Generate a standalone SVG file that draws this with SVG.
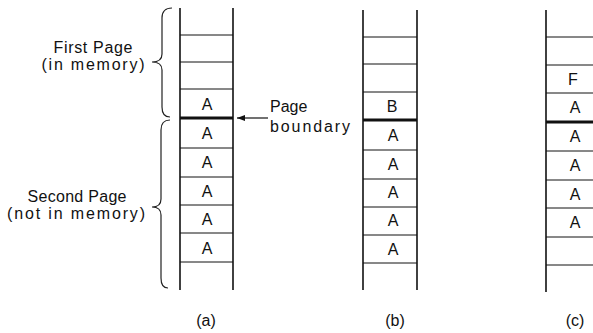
<svg xmlns="http://www.w3.org/2000/svg" width="593" height="333" viewBox="0 0 593 333">
<style>
  text { font-family: "Liberation Sans", Arial, sans-serif; font-size: 16px; fill: #111; }
  .c { text-anchor: middle; }
  .v { stroke: #111; stroke-width: 1.6; fill: none; }
  .h { stroke: #111; stroke-width: 1; fill: none; }
  .b { stroke: #111; stroke-width: 3; fill: none; }
  .br { stroke: #222; stroke-width: 1.2; fill: none; }
</style>
<defs>
  <marker id="ah" markerWidth="8" markerHeight="6" refX="8" refY="3" orient="auto" markerUnits="userSpaceOnUse">
    <path d="M0,0 L8,3 L0,6 Z" fill="#111"/>
  </marker>
</defs>
<rect width="593" height="333" fill="#fff"/>

<g id="brace-first">
  <path class="br" d="M172,8 Q162,8 162,18 L162,54 Q162,62 152,62 Q162,62 162,70 L162,107 Q162,117 170,117"/>
  <text class="c" x="93" y="53" textLength="79" lengthAdjust="spacing">First Page</text>
  <text class="c" x="93" y="70" textLength="103" lengthAdjust="spacing">(in memory)</text>
</g>

<g id="brace-second">
  <path class="br" d="M170,120 Q161,120 161,130 L161,199 Q161,207 152,207 Q161,207 161,215 L161,278 Q161,288 168,288"/>
  <text class="c" x="77" y="202" textLength="99" lengthAdjust="spacing">Second Page</text>
  <text class="c" x="76" y="219" textLength="138" lengthAdjust="spacing">(not in memory)</text>
</g>

<g id="column-a">
  <line class="v" x1="180" y1="8" x2="180" y2="290"/>
  <line class="v" x1="233" y1="8" x2="233" y2="290"/>
  <line class="h" x1="180" y1="35" x2="233" y2="35"/>
  <line class="h" x1="180" y1="62" x2="233" y2="62"/>
  <line class="h" x1="180" y1="89" x2="233" y2="89"/>
  <line class="b" x1="180" y1="118" x2="233" y2="118"/>
  <line class="h" x1="180" y1="148" x2="233" y2="148"/>
  <line class="h" x1="180" y1="177" x2="233" y2="177"/>
  <line class="h" x1="180" y1="205" x2="233" y2="205"/>
  <line class="h" x1="180" y1="233" x2="233" y2="233"/>
  <line class="h" x1="180" y1="262" x2="233" y2="262"/>
  <text class="c" x="207" y="110">A</text>
  <text class="c" x="207" y="139">A</text>
  <text class="c" x="207" y="168">A</text>
  <text class="c" x="207" y="197">A</text>
  <text class="c" x="207" y="225">A</text>
  <text class="c" x="207" y="254">A</text>
  <text class="c" x="206" y="326">(a)</text>
</g>

<g id="column-b">
  <line class="v" x1="363" y1="10" x2="363" y2="290"/>
  <line class="v" x1="417" y1="10" x2="417" y2="290"/>
  <line class="h" x1="363" y1="37" x2="417" y2="37"/>
  <line class="h" x1="363" y1="64" x2="417" y2="64"/>
  <line class="h" x1="363" y1="92" x2="417" y2="92"/>
  <line class="b" x1="363" y1="120" x2="417" y2="120"/>
  <line class="h" x1="363" y1="150" x2="417" y2="150"/>
  <line class="h" x1="363" y1="179" x2="417" y2="179"/>
  <line class="h" x1="363" y1="207" x2="417" y2="207"/>
  <line class="h" x1="363" y1="235" x2="417" y2="235"/>
  <line class="h" x1="363" y1="263" x2="417" y2="263"/>
  <text class="c" x="392" y="112">B</text>
  <text class="c" x="393" y="141">A</text>
  <text class="c" x="393" y="170">A</text>
  <text class="c" x="393" y="198">A</text>
  <text class="c" x="393" y="226">A</text>
  <text class="c" x="393" y="255">A</text>
  <text class="c" x="395" y="326">(b)</text>
</g>

<g id="column-c">
  <line class="v" x1="546" y1="10" x2="546" y2="292"/>
  <line class="h" x1="546" y1="37" x2="593" y2="37"/>
  <line class="h" x1="546" y1="65" x2="593" y2="65"/>
  <line class="h" x1="546" y1="93" x2="593" y2="93"/>
  <line class="b" x1="546" y1="122" x2="593" y2="122"/>
  <line class="h" x1="546" y1="151" x2="593" y2="151"/>
  <line class="h" x1="546" y1="180" x2="593" y2="180"/>
  <line class="h" x1="546" y1="208" x2="593" y2="208"/>
  <line class="h" x1="546" y1="237" x2="593" y2="237"/>
  <line class="h" x1="546" y1="265" x2="593" y2="265"/>
  <text class="c" x="573" y="85">F</text>
  <text class="c" x="575" y="113">A</text>
  <text class="c" x="575" y="142">A</text>
  <text class="c" x="575" y="171">A</text>
  <text class="c" x="575" y="200">A</text>
  <text class="c" x="575" y="228">A</text>
  <text class="c" x="575" y="326">(c)</text>
</g>

<g id="page-boundary-label">
  <text x="270" y="112">Page</text>
  <text x="270" y="132" textLength="80" lengthAdjust="spacing">boundary</text>
</g>

<g id="connectors">
  <line stroke="#111" stroke-width="1.2" x1="268" y1="118" x2="237" y2="118" marker-end="url(#ah)"/>
</g>
</svg>
